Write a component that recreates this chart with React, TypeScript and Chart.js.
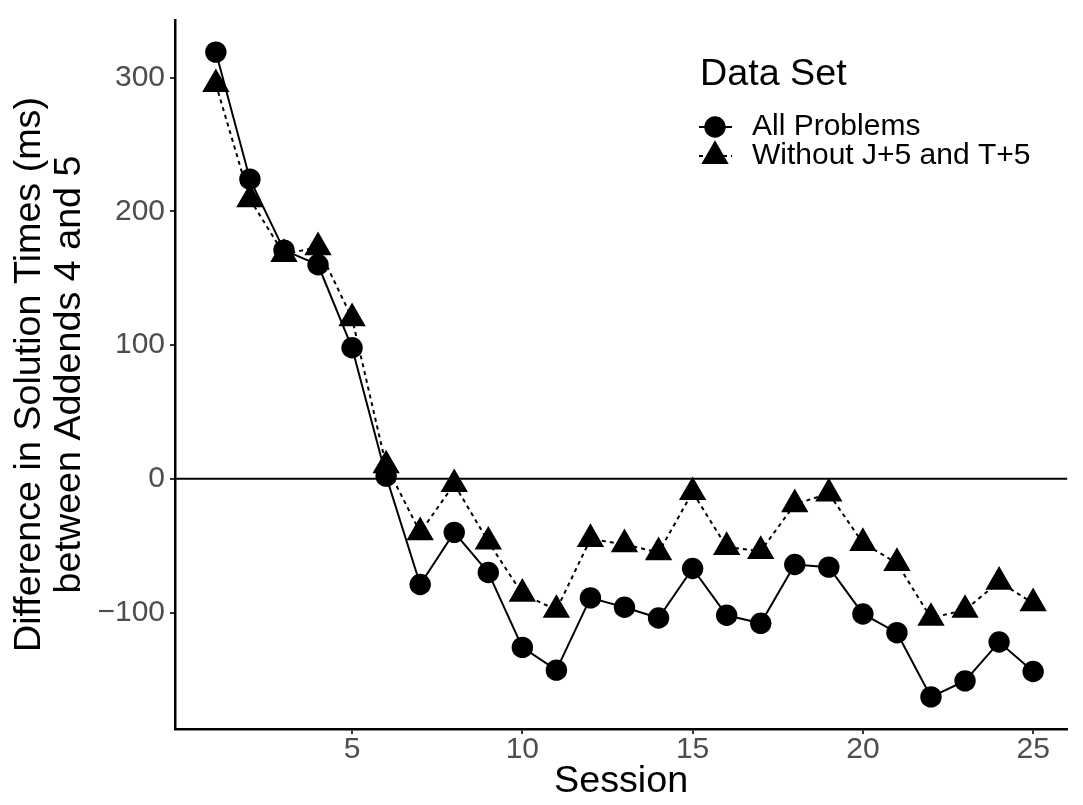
import React, { useEffect, useRef } from "react";
import { Chart, registerables } from "chart.js";

Chart.register(...registerables);

// ---------- data ----------
const sessions = [1, 2, 3, 4, 5, 6, 7, 8, 9, 10, 11, 12, 13, 14, 15, 16, 17, 18, 19, 20, 21, 22, 23, 24, 25];
const allProblems = [319, 224, 171, 160, 98, 2, -79, -40, -70, -126, -143, -89, -96, -104, -67, -102, -108, -64, -66, -101, -115, -163, -151, -122, -144];
const withoutJT = [295, 209, 168, 173, 120, 10, -40, -4, -47, -86, -98, -45, -49, -55, -10, -51, -54, -19, -11, -48, -63, -104, -98, -77, -93];
const xTicks = [5, 10, 15, 20, 25];
const yTicks = [-100, 0, 100, 200, 300];
const seriesLabels = ["All Problems", "Without J+5 and T+5"];
const legendTitle = "Data Set";
const xTitle = "Session";
const yTitle = ["Difference in Solution Times (ms)", "between Addends 4 and 5"];

const FONT = "'Liberation Sans', Arial, Helvetica, sans-serif";
const BASE = 37.7;
const SMALL = 30;

const zeroLinePlugin = {
  id: "zeroLine",
  beforeDatasetsDraw(chart: any) {
    const { ctx, chartArea } = chart;
    const y = chart.scales.y.getPixelForValue(0);
    ctx.save();
    ctx.strokeStyle = "#000";
    ctx.lineWidth = 2;
    ctx.beginPath();
    ctx.moveTo(chartArea.left, y);
    ctx.lineTo(chartArea.right, y);
    ctx.stroke();
    ctx.restore();
  },
};

const legendPlugin = {
  id: "customLegend",
  afterDraw(chart: any) {
    const ctx = chart.ctx;
    ctx.save();
    ctx.fillStyle = "#000";
    ctx.strokeStyle = "#000";
    ctx.textAlign = "left";
    ctx.textBaseline = "middle";
    ctx.font = `${BASE}px ${FONT}`;
    ctx.fillText(legendTitle, 700, 75);
    const keyX = 715;
    seriesLabels.forEach((label, i) => {
      const y = 127 + i * 29;
      ctx.lineWidth = 2;
      ctx.setLineDash(i === 0 ? [] : [4, 4]);
      ctx.beginPath();
      ctx.moveTo(699, y);
      ctx.lineTo(732, y);
      ctx.stroke();
      ctx.setLineDash([]);
      ctx.beginPath();
      if (i === 0) {
        ctx.arc(keyX, y, 10.7, 0, Math.PI * 2);
      } else {
        const r = 15.8;
        for (let k = 0; k < 3; k++) {
          const a = (k * 2 * Math.PI) / 3;
          const px = keyX + Math.sin(a) * r;
          const py = y - Math.cos(a) * r;
          if (k === 0) ctx.moveTo(px, py);
          else ctx.lineTo(px, py);
        }
        ctx.closePath();
      }
      ctx.fill();
      ctx.font = `${SMALL}px ${FONT}`;
      ctx.fillText(label, 752, y);
    });
    ctx.restore();
  },
};

export default function App() {
  const ref = useRef<HTMLCanvasElement | null>(null);

  useEffect(() => {
    if (!ref.current) return;
    Chart.defaults.font.family = FONT;
    const chart = new Chart(ref.current, {
      type: "line",
      data: {
        datasets: [
          {
            label: seriesLabels[0],
            data: sessions.map((s, i) => ({ x: s, y: allProblems[i] })),
            borderColor: "#000",
            backgroundColor: "#000",
            borderWidth: 2,
            pointStyle: "circle",
            pointRadius: 10.7,
            pointBorderWidth: 0,
            pointBackgroundColor: "#000",
            tension: 0,
          },
          {
            label: seriesLabels[1],
            data: sessions.map((s, i) => ({ x: s, y: withoutJT[i] })),
            borderColor: "#000",
            backgroundColor: "#000",
            borderWidth: 2,
            borderDash: [4, 4],
            pointStyle: "triangle",
            pointRadius: 15.8,
            pointBorderWidth: 0,
            pointBackgroundColor: "#000",
            tension: 0,
          },
        ],
      },
      options: {
        animation: false,
        responsive: false,
        maintainAspectRatio: false,
        devicePixelRatio: 1,
        events: [],
        layout: { padding: { left: 0, right: 0, top: 5, bottom: 0 } },
        plugins: {
          legend: { display: false },
          tooltip: { enabled: false },
        },
        scales: {
          x: {
            type: "linear",
            min: -0.2,
            max: 26.0,
            afterBuildTicks: (scale: any) => {
              scale.ticks = xTicks.map((v) => ({ value: v }));
            },
            afterFit: (scale: any) => {
              scale.height = 76;
            },
            grid: {
              display: true,
              drawOnChartArea: false,
              drawTicks: true,
              tickLength: 5,
              color: "#333333",
              lineWidth: 2,
            },
            border: { display: true, color: "#000", width: 2.5 },
            ticks: {
              color: "#4D4D4D",
              font: { size: SMALL, family: FONT, lineHeight: 1.0 },
              padding: 1,
              maxRotation: 0,
              autoSkip: false,
            },
            title: {
              display: true,
              text: xTitle,
              color: "#000",
              font: { size: BASE, family: FONT, lineHeight: 1.0 },
              padding: { top: 0, bottom: 5 },
            },
          },
          y: {
            type: "linear",
            min: -187,
            max: 343,
            afterBuildTicks: (scale: any) => {
              scale.ticks = yTicks.map((v) => ({ value: v }));
            },
            afterFit: (scale: any) => {
              scale.width = 175;
            },
            grid: {
              display: true,
              drawOnChartArea: false,
              drawTicks: true,
              tickLength: 5,
              color: "#333333",
              lineWidth: 2,
            },
            border: { display: true, color: "#000", width: 2.5 },
            ticks: {
              color: "#4D4D4D",
              font: { size: SMALL, family: FONT, lineHeight: 1.0 },
              padding: 5,
              autoSkip: false,
              callback: (v: any) => (Number(v) < 0 ? "\u2212" + Math.abs(Number(v)) : String(v)),
            },
            title: {
              display: true,
              text: yTitle,
              color: "#000",
              font: { size: BASE, family: FONT, lineHeight: 1.06 },
              padding: { top: 10, bottom: 0 },
            },
          },
        },
      },
      plugins: [zeroLinePlugin, legendPlugin],
    } as any);
    return () => chart.destroy();
  }, []);

  return (
    <div style={{ position: "fixed", left: 0, top: 0, width: 1083, height: 805, background: "#fff" }}>
      <canvas ref={ref} width={1083} height={805} style={{ display: "block", width: 1083, height: 805 }} />
    </div>
  );
}
